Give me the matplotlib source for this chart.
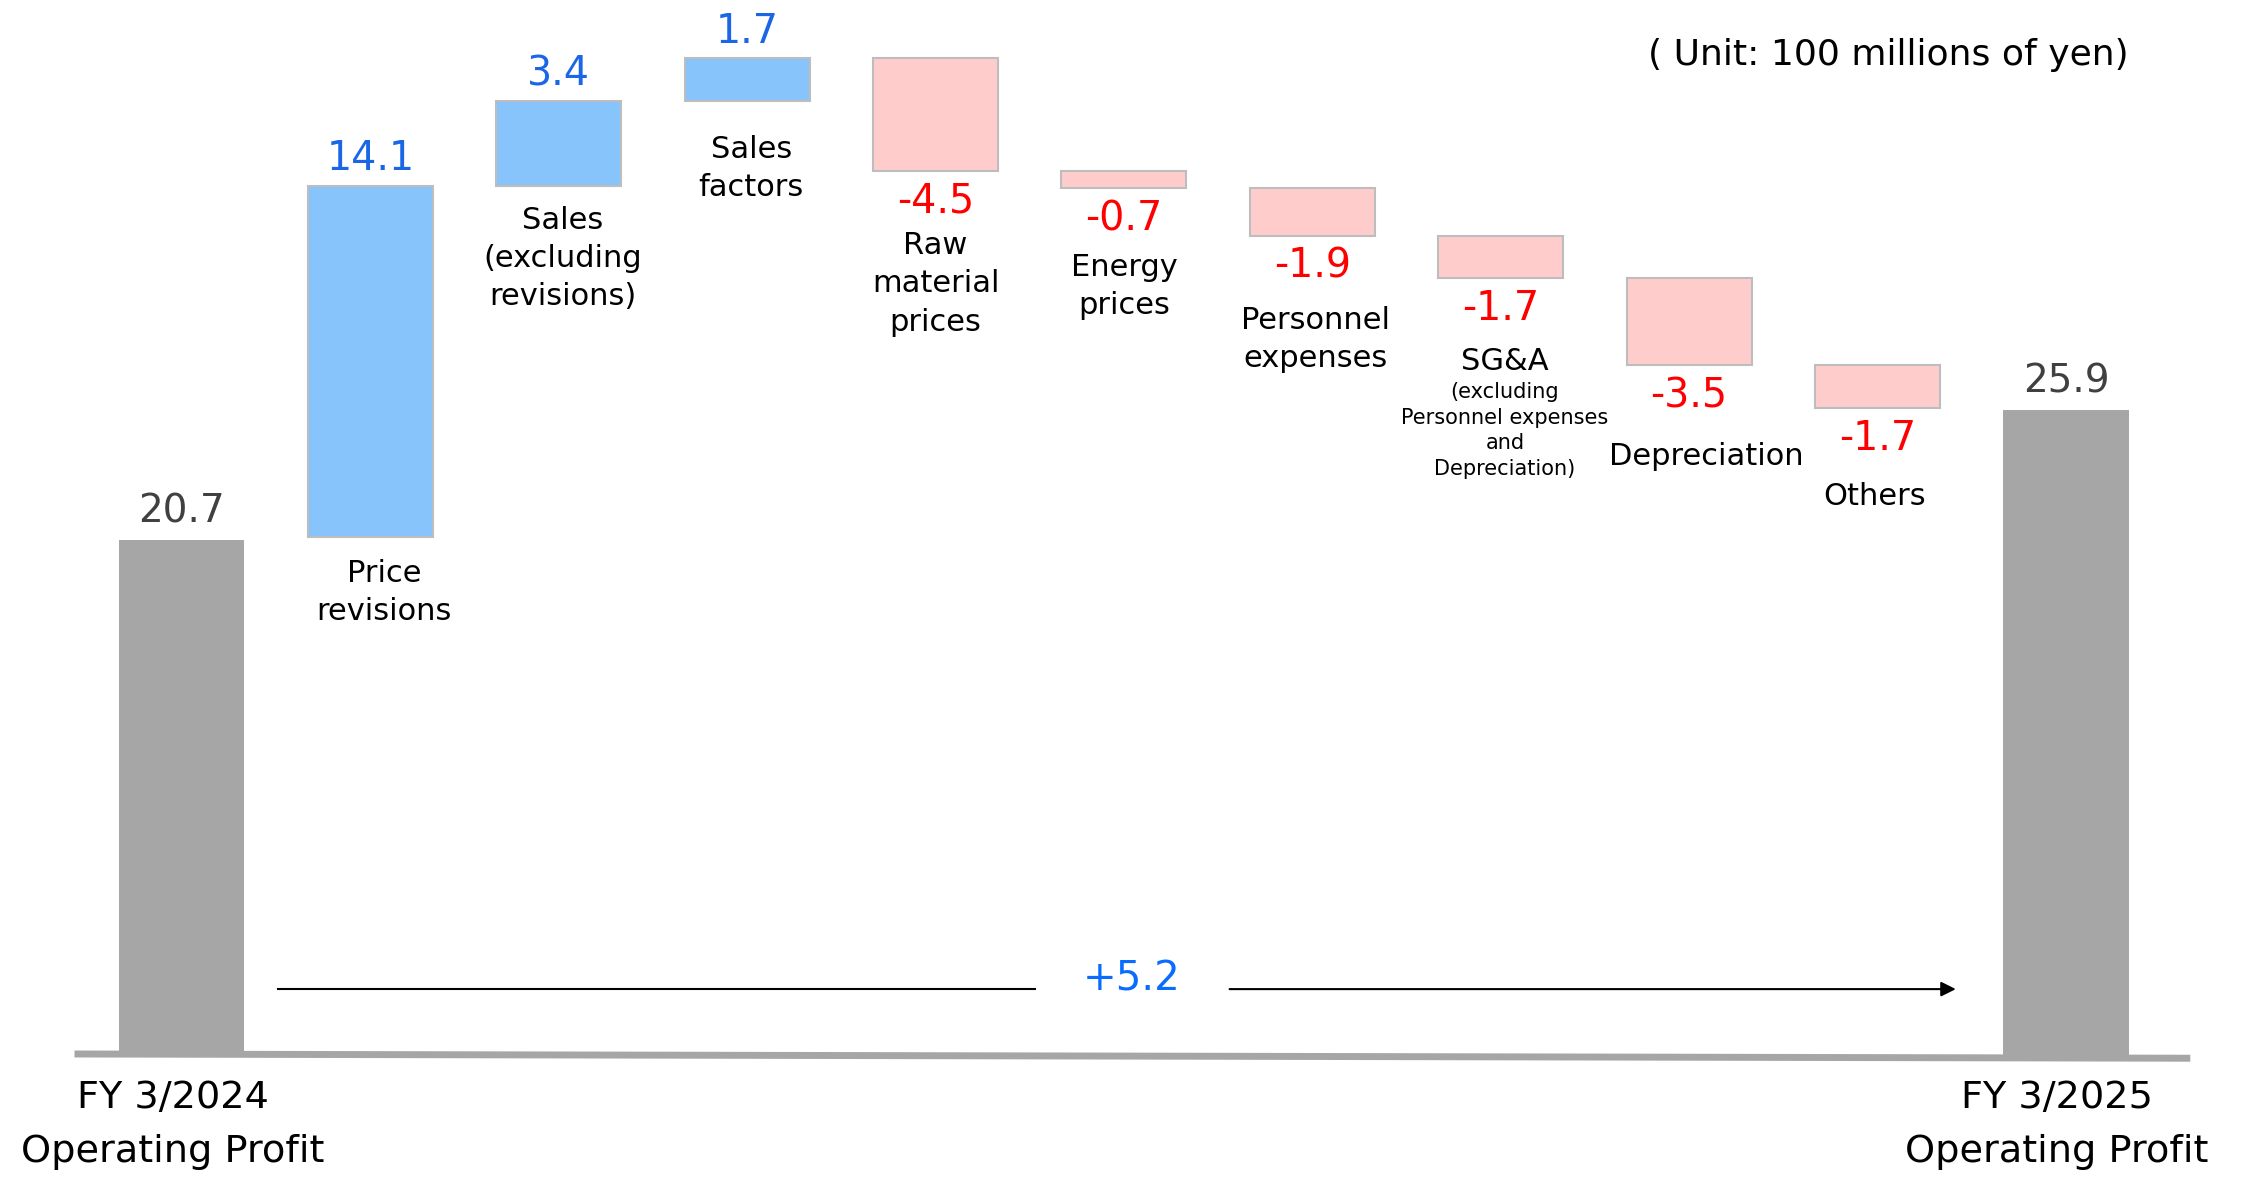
import matplotlib
matplotlib.use("Agg")
import matplotlib.pyplot as plt

plt.rcParams["font.family"] = ["DejaVu Sans"]

# waterfall data (100 millions of yen)
start_label = "FY 3/2024\nOperating Profit"
end_label = "FY 3/2025\nOperating Profit"
start_value = 20.7
end_value = 25.9

factor_labels = [
    "Price\nrevisions",
    "Sales\n(excluding\nrevisions)",
    "Sales\nfactors",
    "Raw\nmaterial\nprices",
    "Energy\nprices",
    "Personnel\nexpenses",
    "SG&A",
    "Depreciation",
    "Others",
]
factor_values = [14.1, 3.4, 1.7, -4.5, -0.7, -1.9, -1.7, -3.5, -1.7]
sga_note = ["(excluding", "Personnel expenses", "and", "Depreciation)"]

# label layout (points below bar bottom for first line, x shift in points)
label_first_offset = [26, 25, 35, 54, 57, 61, 60, 66, 64]
label_x_shift = [10, 3, 3, 0, 0, 2, 3, 12, -2]

BLUE_BAR = "#87c4fb"
PINK_BAR = "#ffcccc"
GRAY_BAR = "#a6a6a6"
EDGE = "#bdbdbd"
BLUE_TXT = "#1a66e6"
RED_TXT = "#ff0000"
GRAY_TXT = "#404040"

WIDTH = 0.664
LINE_STEP = 27.5


def main():
    fig = plt.figure(figsize=(22.44, 11.78), dpi=100)
    ax = fig.add_axes([0, 0, 1, 1])
    ax.set_xlim(-0.9655, 10.945)
    ax.set_ylim(-4.97, 42.24)
    ax.axis("off")

    n = len(factor_values)
    end_x = n + 1

    # baseline, drawn with a slight slope like the original slide
    ax.plot([-0.57, 10.66], [0.0, -0.17], color=GRAY_BAR, lw=5,
            solid_capstyle="butt", zorder=1)

    # start / end bars
    for x, val, lab in [(0, start_value, start_label),
                        (end_x, end_value, end_label)]:
        ax.bar(x, val, width=WIDTH, bottom=-0.1, color=GRAY_BAR, zorder=2)
        ax.annotate(f"{val:.1f}", (x, val), xytext=(0, 19),
                    textcoords="offset points", ha="center", va="center",
                    fontsize=28, color=GRAY_TXT)
        for k, line in enumerate(lab.split("\n")):
            ax.annotate(line, (x - 0.05, 0), xytext=(0, -32 - k * 38.5),
                        textcoords="offset points", ha="center",
                        va="center", fontsize=27.5, color="black")

    # factor bars
    level = start_value
    for i, (val, lab) in enumerate(zip(factor_values, factor_labels)):
        x = i + 1
        bottom = level if val >= 0 else level + val
        top = bottom + abs(val)
        ax.bar(x, abs(val), bottom=bottom, width=WIDTH,
               color=BLUE_BAR if val >= 0 else PINK_BAR,
               edgecolor=EDGE, linewidth=1.5, zorder=2)
        level += val

        if val >= 0:
            ax.annotate(f"{val:.1f}", (x, top), xytext=(0, 19),
                        textcoords="offset points", ha="center",
                        va="center", fontsize=28.5, color=BLUE_TXT)
        else:
            ax.annotate(f"{val:.1f}", (x, bottom), xytext=(0, -22.5),
                        textcoords="offset points", ha="center",
                        va="center", fontsize=28.5, color=RED_TXT)
        first = -label_first_offset[i]

        lines = lab.split("\n")
        for k, line in enumerate(lines):
            ax.annotate(line, (x, bottom),
                        xytext=(label_x_shift[i], first - k * LINE_STEP),
                        textcoords="offset points", ha="center",
                        va="center", fontsize=22, color="black")
        if lab == "SG&A":
            for k, line in enumerate(sga_note):
                ax.annotate(line, (x, bottom),
                            xytext=(label_x_shift[i], first - 22 - k * 18.5),
                            textcoords="offset points", ha="center",
                            va="center", fontsize=15, color="black")

    # total change arrow
    diff = end_value - start_value
    arrow_y = 2.6
    ax.plot([0.508, 4.53], [arrow_y, arrow_y], color="black", lw=1.5,
            zorder=3)
    ax.annotate("", xy=(9.43, arrow_y), xytext=(5.546, arrow_y),
                arrowprops=dict(arrowstyle="-|>", color="black", lw=1.5,
                                mutation_scale=22), zorder=3)
    ax.text(5.04, 3.0, f"+{diff:.1f}", ha="center", va="center",
            fontsize=29, color="#0a6cff")

    fig.text(0.8417, 0.953, "( Unit: 100 millions of yen)", ha="center",
             va="center", fontsize=26, color="black")

    fig.savefig("out.png", dpi=100)
    plt.close(fig)


if __name__ == "__main__":
    main()
